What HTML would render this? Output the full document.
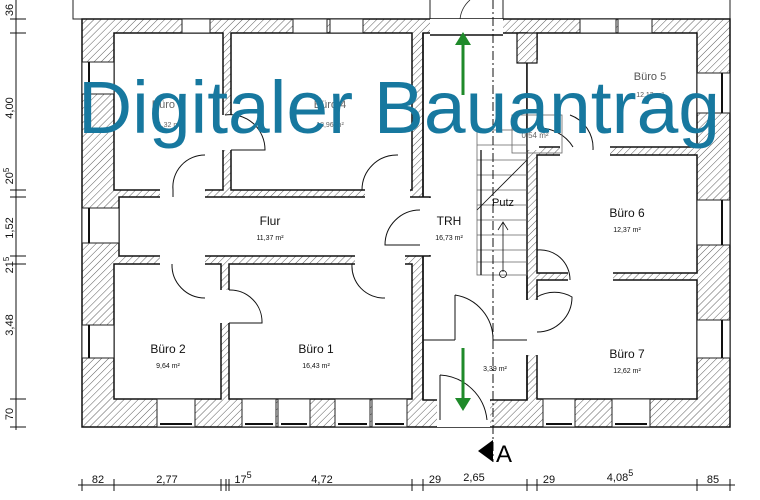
<!DOCTYPE html>
<html><head><meta charset="utf-8"><style>html,body{margin:0;padding:0;background:#fff}svg{display:block}</style></head><body>
<svg width="760" height="500" viewBox="0 0 760 500" xmlns="http://www.w3.org/2000/svg" font-family="Liberation Sans, sans-serif">
<defs>
<pattern id="h" width="5" height="5" patternUnits="userSpaceOnUse" patternTransform="rotate(45)">
<rect width="5" height="5" fill="#fff"/><line x1="0" y1="0" x2="0" y2="5" stroke="#333" stroke-width="0.8"/>
</pattern>
</defs>
<path d="M73 0 V19 H430 M503 19 V0 M430 0 V19 M730 0 V19" fill="none" stroke="#222" stroke-width="1"/>
<path d="M460 19 A30 30 0 0 1 470 0" fill="none" stroke="#222" stroke-width="0.8"/>
<rect x="82" y="19" width="648" height="408" fill="url(#h)" stroke="#111" stroke-width="1.5"/>
<g fill="#fff" stroke="#111" stroke-width="1.5">
<rect x="114" y="33" width="109" height="157"/>
<rect x="231" y="33" width="181" height="157"/>
<rect x="114" y="264" width="107" height="135"/>
<rect x="229" y="264" width="183" height="135"/>
<rect x="537" y="33" width="160" height="114"/>
<rect x="537" y="155" width="160" height="118"/>
<rect x="537" y="280" width="160" height="119"/>
<rect x="423" y="33" width="104" height="367"/>
<rect x="119" y="197" width="311" height="59"/>
</g>
<g fill="#fff" stroke="none">
<rect x="405" y="198" width="30" height="57"/>
<rect x="430" y="19" width="73" height="16"/>
<rect x="527" y="60" width="12" height="90"/>
<rect x="437" y="399" width="53" height="28"/>
<rect x="520" y="300" width="20" height="55"/>
<rect x="160" y="189" width="45" height="9"/>
<rect x="365" y="189" width="45" height="9"/>
<rect x="160" y="255" width="45" height="10"/>
<rect x="355" y="255" width="50" height="10"/>
<rect x="220" y="290" width="11" height="33"/>
<rect x="221" y="115" width="12" height="35"/>
<rect x="568" y="271" width="45" height="10"/>
<rect x="560" y="146" width="50" height="10"/>
</g>
<path d="M527 33 V300 M527 355 V400 M423 33 V197 M423 256 V400 M430 35 H503" stroke="#111" stroke-width="1.5" fill="none"/>
<rect x="517" y="33" width="20" height="30" fill="url(#h)" stroke="#111" stroke-width="1.2"/>
<g fill="#fff" stroke="#222" stroke-width="1">
<rect x="182" y="19" width="28" height="14"/><rect x="293" y="19" width="34" height="14"/><rect x="330" y="19" width="33" height="14"/>
<rect x="580" y="19" width="36" height="14"/><rect x="618" y="19" width="34" height="14"/>
<rect x="82" y="62" width="32" height="32"/><rect x="82" y="208" width="37" height="35"/><rect x="82" y="325" width="32" height="33"/>
<rect x="697" y="73" width="33" height="40"/><rect x="697" y="200" width="33" height="45"/><rect x="697" y="320" width="33" height="38"/>
<rect x="157" y="399" width="38" height="28"/><rect x="242" y="399" width="34" height="28"/><rect x="278" y="399" width="32" height="28"/>
<rect x="335" y="399" width="35" height="28"/><rect x="372" y="399" width="35" height="28"/><rect x="543" y="399" width="32" height="28"/><rect x="612" y="399" width="38" height="28"/>
</g>
<g stroke="#111" stroke-width="2">
<line x1="89" y1="62" x2="89" y2="94"/><line x1="89" y1="208" x2="89" y2="243"/><line x1="89" y1="325" x2="89" y2="358"/>
<line x1="722" y1="73" x2="722" y2="113"/><line x1="722" y1="200" x2="722" y2="245"/><line x1="722" y1="320" x2="722" y2="358"/>
<line x1="160" y1="424" x2="192" y2="424"/><line x1="245" y1="424" x2="273" y2="424"/><line x1="281" y1="424" x2="307" y2="424"/><line x1="338" y1="424" x2="367" y2="424"/><line x1="375" y1="424" x2="404" y2="424"/><line x1="546" y1="424" x2="572" y2="424"/><line x1="615" y1="424" x2="647" y2="424"/>
</g>
<g fill="none" stroke="#111" stroke-width="1">
<path d="M205 155 A32 32 0 0 0 173 190 M173 197 V190"/>
<path d="M398 155 A35 35 0 0 0 362 190"/>
<path d="M205 298 A33 33 0 0 1 172 264"/>
<path d="M229 290 A32 32 0 0 1 262 323 H229"/>
<path d="M225 115 A35 35 0 0 1 265 150 H231"/>
<path d="M352 264 A32 32 0 0 0 385 298"/>
<path d="M420 210 A35 35 0 0 0 385 245 H420"/>
<path d="M537 128 A40 40 0 0 1 573 147"/>
<path d="M593 150 A35 35 0 0 0 570 115"/>
<path d="M570 280 A30 30 0 0 0 537 250"/>
<path d="M537 297 A35 35 0 0 1 572 297 A35 35 0 0 1 537 332"/>
<path d="M455 295 A45 45 0 0 1 493 340 M455 295 V340 M423 340 H455 M493 340 H527"/>
<path d="M440 375 A50 50 0 0 1 487 420 M440 375 V420"/>
</g>
<g stroke="#666" stroke-width="0.8" fill="none">
<rect x="477" y="130" width="50" height="145"/>
<path d="M477 145 H527 M477 160 H527 M477 175 H527 M477 190 H527 M477 205 H527 M477 220 H527 M477 235 H527 M477 250 H527 M477 262 H527"/>
<path d="M477 210 L527 160" stroke="#111"/><path d="M481 150 V275" stroke="#111" stroke-width="1.3"/>
<rect x="512" y="115" width="50" height="38"/>
<path d="M503 222 V272 M498 230 L503 222 L508 230" stroke="#111"/>
<circle cx="503" cy="274" r="3.5" stroke="#111"/>
</g>
<line x1="493" y1="0" x2="493" y2="462" stroke="#111" stroke-width="1" stroke-dasharray="9,3,2,3"/>
<path d="M493 440 L478 451 L493 462 Z" fill="#000"/>
<text x="496" y="462" font-size="24">A</text>
<g fill="#1f8a2a" stroke="#1f8a2a">
<line x1="463" y1="95" x2="463" y2="45" stroke-width="3"/><path d="M455 45 L463 32 L471 45 Z" stroke="none"/>
<line x1="463" y1="348" x2="463" y2="400" stroke-width="3"/><path d="M455 398 L463 411 L471 398 Z" stroke="none"/>
</g>
<g fill="#111" text-anchor="middle">
<text x="168" y="108" font-size="11" fill="#666">Büro 3</text><text x="168" y="127" font-size="7" fill="#666">11,32 m²</text>
<text x="330" y="108" font-size="11" fill="#666">Büro 4</text><text x="330" y="127" font-size="7" fill="#666">18,96 m²</text>
<text x="650" y="80" font-size="11" fill="#555">Büro 5</text><text x="650" y="97" font-size="7" fill="#555">12,13 m²</text>
<text x="535" y="138" font-size="8" fill="#666">0,54 m²</text>
<text x="270" y="225" font-size="12">Flur</text><text x="270" y="240" font-size="7">11,37 m²</text>
<text x="449" y="225" font-size="12">TRH</text><text x="449" y="240" font-size="7">16,73 m²</text>
<text x="503" y="206" font-size="11">Putz</text>
<text x="627" y="217" font-size="12">Büro 6</text><text x="627" y="232" font-size="7">12,37 m²</text>
<text x="168" y="353" font-size="12">Büro 2</text><text x="168" y="368" font-size="7">9,64 m²</text>
<text x="316" y="353" font-size="12">Büro 1</text><text x="316" y="368" font-size="7">16,43 m²</text>
<text x="495" y="371" font-size="7">3,39 m²</text>
<text x="627" y="358" font-size="12">Büro 7</text><text x="627" y="373" font-size="7">12,62 m²</text>
</g>
<g stroke="#111" stroke-width="1">
<line x1="16" y1="0" x2="16" y2="430"/>
<path d="M10 19 H26 M10 33 H26 M10 190 H26 M10 197 H26 M10 256 H26 M10 264 H26 M10 399 H26 M10 427 H26"/>
<line x1="78" y1="485" x2="735" y2="485"/>
<path d="M82 479 V491 M114 479 V491 M221 479 V491 M226 479 V491 M229 479 V491 M412 479 V491 M423 479 V491 M527 479 V491 M537 479 V491 M697 479 V491 M730 479 V491"/>
</g>
<g font-size="11" fill="#111" text-anchor="middle">
<text transform="translate(13,10) rotate(-90)">36</text>
<text transform="translate(13,108) rotate(-90)">4,00</text>
<text transform="translate(13,176) rotate(-90)">20<tspan dy="-4" font-size="8">5</tspan></text>
<text transform="translate(13,228) rotate(-90)">1,52</text>
<text transform="translate(13,265) rotate(-90)">21<tspan dy="-4" font-size="8">5</tspan></text>
<text transform="translate(13,325) rotate(-90)">3,48</text>
<text transform="translate(13,414) rotate(-90)">70</text>
<text x="98" y="483">82</text><text x="167" y="483">2,77</text>
<text x="243" y="483">17<tspan dy="-5" font-size="9">5</tspan></text>
<text x="322" y="483">4,72</text><text x="435" y="483">29</text><text x="474" y="481">2,65</text>
<text x="549" y="483">29</text><text x="620" y="481">4,08<tspan dy="-5" font-size="9">5</tspan></text><text x="713" y="483">85</text>
</g>
<text x="78" y="133" font-size="74" fill="#17789f" textLength="642" lengthAdjust="spacingAndGlyphs">Digitaler Bauantrag</text>
</svg>
</body></html>
